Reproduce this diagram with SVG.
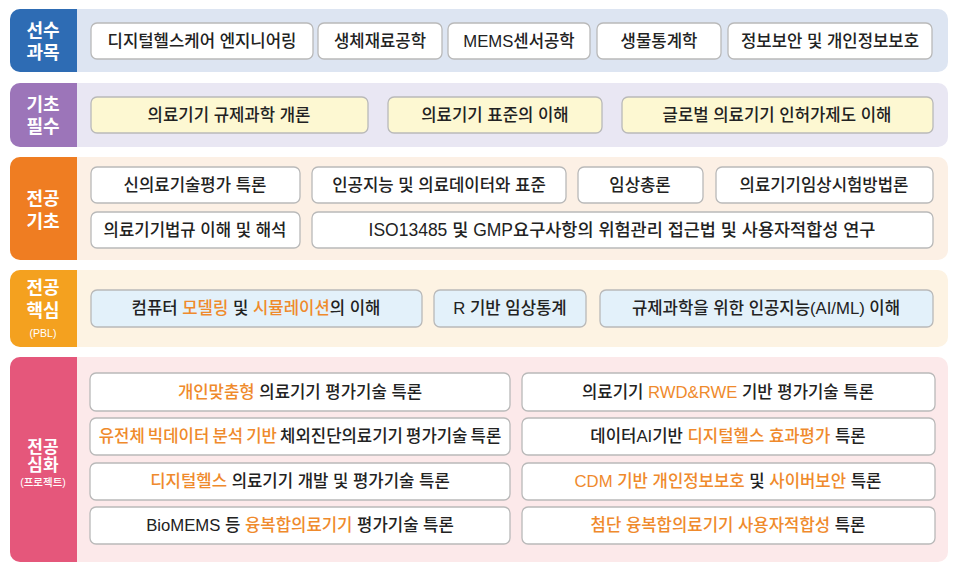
<svg xmlns="http://www.w3.org/2000/svg" width="960" height="572" viewBox="0 0 960 572">
<style>
text{font-family:"Liberation Sans","Noto Sans CJK KR",sans-serif}
.bx{fill:#fff;stroke:#b9b9b9;stroke-width:1.3}
.by{fill:#fdf8d2;stroke:#b9b9b9;stroke-width:1.3}
.bb{fill:#e3f1fa;stroke:#b9b9b9;stroke-width:1.3}
.t{font-size:16.7px;fill:#222;text-anchor:middle;font-weight:500}
.o{fill:#ef8a2c}
.tab{font-size:18px;fill:#fff;text-anchor:middle;font-weight:700}
.tab5{font-size:17px;fill:#fff;text-anchor:middle;font-weight:700}
.sm{font-size:10.5px;fill:#fff;text-anchor:middle;font-weight:500}
</style>
<rect width="960" height="572" fill="#fff"/>

<g id="row1">
<rect x="10" y="9" width="938" height="63" rx="10" fill="#dde5f2"/>
<path d="M20 9H77V72H20A10 10 0 0 1 10 62V19A10 10 0 0 1 20 9Z" fill="#2e6cb4"/>
<text class="tab" x="43" y="37">선수</text>
<text class="tab" x="43" y="59">과목</text>
</g>
<g id="n1a"><rect class="bx" x="91" y="23" width="222" height="36" rx="6"/><text class="t" x="202" y="47">디지털헬스케어 엔지니어링</text></g>
<g id="n1b"><rect class="bx" x="318" y="23" width="124" height="36" rx="6"/><text class="t" x="380" y="47">생체재료공학</text></g>
<g id="n1c"><rect class="bx" x="448" y="23" width="142" height="36" rx="6"/><text class="t" x="519" y="47">MEMS센서공학</text></g>
<g id="n1d"><rect class="bx" x="597" y="23" width="124" height="36" rx="6"/><text class="t" x="659" y="47">생물통계학</text></g>
<g id="n1e"><rect class="bx" x="728" y="23" width="204" height="36" rx="6"/><text class="t" x="830" y="47">정보보안 및 개인정보보호</text></g>

<g id="row2">
<rect x="10" y="83" width="938" height="64" rx="10" fill="#e9e7f3"/>
<path d="M20 83H77V147H20A10 10 0 0 1 10 137V93A10 10 0 0 1 20 83Z" fill="#9c75b9"/>
<text class="tab" x="43" y="111">기초</text>
<text class="tab" x="43" y="133">필수</text>
</g>
<g id="n2a"><rect class="by" x="91" y="97" width="277" height="36" rx="6"/><text class="t" x="229" y="121">의료기기 규제과학 개론</text></g>
<g id="n2b"><rect class="by" x="388" y="97" width="214" height="36" rx="6"/><text class="t" x="495" y="121">의료기기 표준의 이해</text></g>
<g id="n2c"><rect class="by" x="622" y="97" width="311" height="36" rx="6"/><text class="t" x="777" y="121">글로벌 의료기기 인허가제도 이해</text></g>

<g id="row3">
<rect x="10" y="157" width="938" height="103" rx="10" fill="#fcf0e5"/>
<path d="M20 157H77V260H20A10 10 0 0 1 10 250V167A10 10 0 0 1 20 157Z" fill="#ef7d22"/>
<text class="tab" x="43" y="205">전공</text>
<text class="tab" x="43" y="228">기초</text>
</g>
<g id="n3a"><rect class="bx" x="91" y="167" width="209" height="36" rx="6"/><text class="t" x="195" y="191">신의료기술평가 특론</text></g>
<g id="n3b"><rect class="bx" x="312" y="167" width="254" height="36" rx="6"/><text class="t" x="439" y="191">인공지능 및 의료데이터와 표준</text></g>
<g id="n3c"><rect class="bx" x="578" y="167" width="125" height="36" rx="6"/><text class="t" x="640" y="191">임상총론</text></g>
<g id="n3d"><rect class="bx" x="716" y="167" width="217" height="36" rx="6"/><text class="t" x="824" y="191">의료기기임상시험방법론</text></g>
<g id="n3e"><rect class="bx" x="91" y="212" width="209" height="36" rx="6"/><text class="t" x="195" y="236">의료기기법규 이해 및 해석</text></g>
<g id="n3f"><rect class="bx" x="312" y="212" width="621" height="36" rx="6"/><text class="t" x="622" y="236" style="font-size:17.5px">ISO13485 및 GMP요구사항의 위험관리 접근법 및 사용자적합성 연구</text></g>

<g id="row4">
<rect x="10" y="270" width="938" height="77" rx="10" fill="#fdf3e3"/>
<path d="M20 270H77V347H20A10 10 0 0 1 10 337V280A10 10 0 0 1 20 270Z" fill="#f4a11f"/>
<text class="tab" x="43" y="294">전공</text>
<text class="tab" x="43" y="317">핵심</text>
<text class="sm" x="43" y="337">(PBL)</text>
</g>
<g id="n4a"><rect class="bb" x="91" y="290" width="331" height="37" rx="6"/><text class="t" x="256" y="314">컴퓨터 <tspan class="o">모델링</tspan> 및 <tspan class="o">시뮬레이션</tspan>의 이해</text></g>
<g id="n4b"><rect class="bb" x="434" y="290" width="152" height="37" rx="6"/><text class="t" x="510" y="314">R 기반 임상통계</text></g>
<g id="n4c"><rect class="bb" x="600" y="290" width="333" height="37" rx="6"/><text class="t" x="766" y="314">규제과학을 위한 인공지능(AI/ML) 이해</text></g>

<g id="row5">
<rect x="10" y="357" width="938" height="205" rx="10" fill="#fce9ea"/>
<path d="M20 357H77V562H20A10 10 0 0 1 10 552V367A10 10 0 0 1 20 357Z" fill="#e5577b"/>
<text class="tab5" x="43" y="453">전공</text>
<text class="tab5" x="43" y="471">심화</text>
<text class="sm" x="43" y="486">(프로젝트)</text>
</g>
<g id="n5a"><rect class="bx" x="90" y="373" width="420" height="38" rx="6"/><text class="t" x="300" y="398"><tspan class="o">개인맞춤형</tspan> 의료기기 평가기술 특론</text></g>
<g id="n5b"><rect class="bx" x="90" y="418" width="420" height="37" rx="6"/><text class="t" x="300" y="442" style="word-spacing:-1.5px"><tspan class="o">유전체 빅데이터 분석 기반</tspan> 체외진단의료기기 평가기술 특론</text></g>
<g id="n5c"><rect class="bx" x="90" y="463" width="420" height="37" rx="6"/><text class="t" x="300" y="487"><tspan class="o">디지털헬스</tspan> 의료기기 개발 및 평가기술 특론</text></g>
<g id="n5d"><rect class="bx" x="90" y="507" width="420" height="37" rx="6"/><text class="t" x="300" y="531">BioMEMS 등 <tspan class="o">융복합의료기기</tspan> 평가기술 특론</text></g>
<g id="n5e"><rect class="bx" x="522" y="373" width="413" height="38" rx="6"/><text class="t" x="728" y="398">의료기기 <tspan class="o">RWD&amp;RWE</tspan> 기반 평가기술 특론</text></g>
<g id="n5f"><rect class="bx" x="522" y="418" width="413" height="37" rx="6"/><text class="t" x="728" y="442">데이터AI기반 <tspan class="o">디지털헬스 효과평가</tspan> 특론</text></g>
<g id="n5g"><rect class="bx" x="522" y="463" width="413" height="37" rx="6"/><text class="t" x="728" y="487"><tspan class="o">CDM 기반 개인정보보호</tspan> 및 <tspan class="o">사이버보안</tspan> 특론</text></g>
<g id="n5h"><rect class="bx" x="522" y="507" width="413" height="37" rx="6"/><text class="t" x="728" y="531"><tspan class="o">첨단 융복합의료기기 사용자적합성</tspan> 특론</text></g>
</svg>
